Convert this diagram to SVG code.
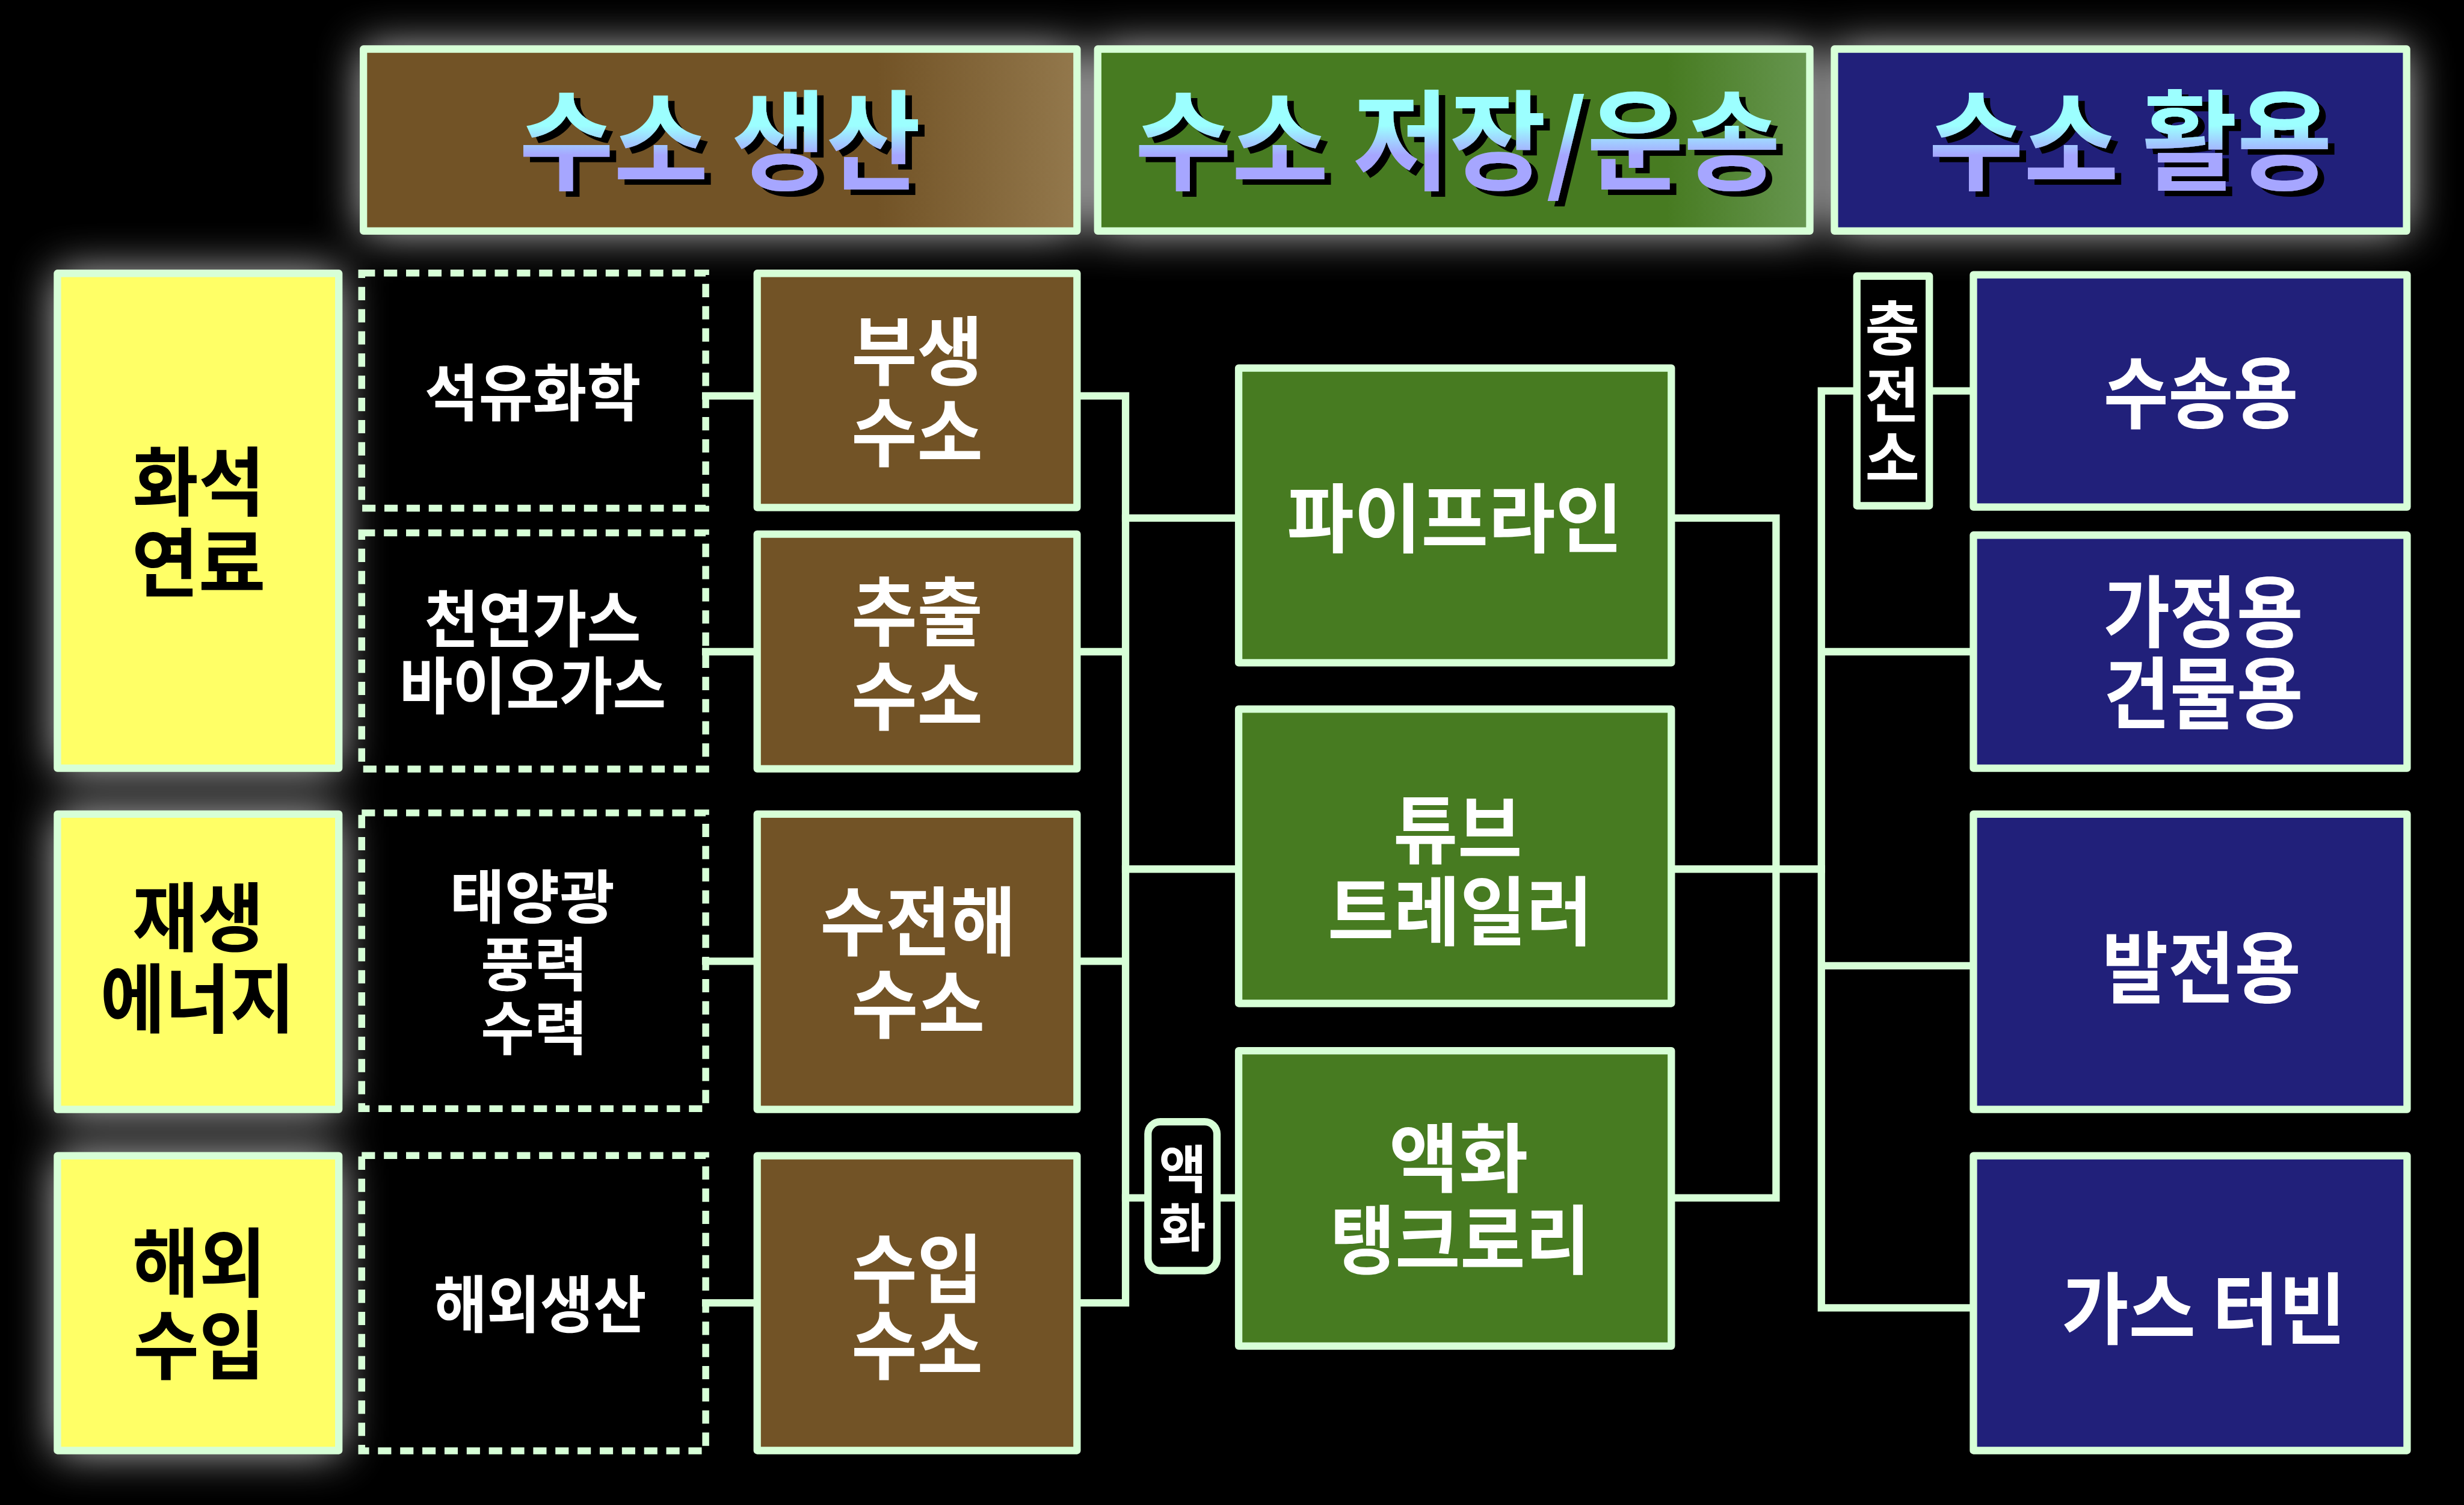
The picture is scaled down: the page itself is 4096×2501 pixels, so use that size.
<svg xmlns="http://www.w3.org/2000/svg" width="4096" height="2501" viewBox="0 0 4096 2501">
<defs>
<style>
.edge{fill:none;stroke:#D7FFD7;stroke-width:15;stroke-linecap:square;stroke-linejoin:miter}
.box{stroke:#D7FFD7;stroke-width:15;stroke-linejoin:round}
.dash{fill:none;stroke:#D7FFD7;stroke-width:14;stroke-dasharray:27 18}
.lbl{fill:#000;stroke:#D7FFD7;stroke-width:15;stroke-linejoin:round}
text{font-family:"Noto Sans CJK KR","Noto Sans",sans-serif;font-weight:700;text-anchor:middle}
.w{fill:#fff}
.k{fill:#000}
.hd{font-size:220px}
.n{font-size:152px}
.d{font-size:126px}
.b{font-size:158px}
.brown{fill:#725326}
.green{fill:#477B21}
.navy{fill:#21207A}
.yel{fill:#FFFF66}
</style>
<filter id="glow" filterUnits="userSpaceOnUse" x="-400" y="-400" width="5800" height="3900"><feGaussianBlur stdDeviation="45"/></filter>
<filter id="shadow" x="-5%" y="-10%" width="115%" height="130%"><feOffset in="SourceAlpha" dx="13" dy="11" result="o"/><feMerge><feMergeNode in="o"/><feMergeNode in="SourceGraphic"/></feMerge></filter>
<linearGradient id="gBrown" x1="0" y1="0" x2="1" y2="0"><stop offset="0.72" stop-color="#725326"/><stop offset="1" stop-color="#93784C"/></linearGradient>
<linearGradient id="gGreen" x1="0" y1="0" x2="1" y2="0"><stop offset="0.8" stop-color="#477B21"/><stop offset="1" stop-color="#679650"/></linearGradient>
<linearGradient id="gText" gradientUnits="userSpaceOnUse" x1="0" y1="255" x2="0" y2="315"><stop offset="0" stop-color="#9CFFFF"/><stop offset="1" stop-color="#A6A6FF"/></linearGradient>
</defs>
<rect x="0" y="0" width="4096" height="2501" fill="#000"/>
<g transform="scale(0.8192)">
<g id="glows" filter="url(#glow)" fill="#fff" opacity="0.8">
<rect x="735" y="97" width="1452" height="374"/>
<rect x="2225" y="97" width="1450" height="374"/>
<rect x="3720" y="97" width="1166" height="374"/>
<rect x="114" y="552" width="576" height="1009"/>
<rect x="114" y="1649" width="576" height="604"/>
<rect x="114" y="2342" width="576" height="603"/>
</g>

<g id="connectors">
<path class="edge" d="M1432 803H1536M1432 1322H1536M1432 1950H1536M1432 2643H1536"/>
<path class="edge" d="M2185 803H2284V2643H2185M2185 1322H2284M2185 1950H2284"/>
<path class="edge" d="M2284 1051H2513M2284 1763H2513M2284 2430H2513"/>
<path class="edge" d="M3392 1051H3604V2430H3392M3392 1763H3696"/>
<path class="edge" d="M4004 793H3696V2653H4004M3696 1322H4004M3696 1959H4004"/>
</g>

<g id="header-production">
<rect class="box" x="737.5" y="99.5" width="1448" height="369" fill="url(#gBrown)"/>
<text class="hd" x="1461" y="368" fill="url(#gText)" filter="url(#shadow)" textLength="815" lengthAdjust="spacingAndGlyphs">수소 생산</text>
</g>
<g id="header-storage">
<rect class="box" x="2227.5" y="99.5" width="1445" height="369" fill="url(#gGreen)"/>
<text class="hd" x="2958" y="368" fill="url(#gText)" filter="url(#shadow)" textLength="1310" lengthAdjust="spacingAndGlyphs">수소 저장/운송</text>
</g>
<g id="header-use">
<rect class="box navy" x="3722.5" y="99.5" width="1161" height="369"/>
<text class="hd" x="4323" y="368" fill="url(#gText)" filter="url(#shadow)" textLength="819" lengthAdjust="spacingAndGlyphs">수소 활용</text>
</g>

<g id="fossil-fuel">
<rect class="box yel" x="116.5" y="554.5" width="571" height="1004"/>
<text class="n k"><tspan x="403" y="1034" textLength="268" lengthAdjust="spacingAndGlyphs">화석</tspan><tspan x="403" y="1199" textLength="272" lengthAdjust="spacingAndGlyphs">연료</tspan></text>
</g>
<g id="renewable">
<rect class="box yel" x="116.5" y="1651.5" width="571" height="599"/>
<text class="n k"><tspan x="402" y="1918" textLength="267" lengthAdjust="spacingAndGlyphs">재생</tspan><tspan x="401" y="2083" textLength="395" lengthAdjust="spacingAndGlyphs">에너지</tspan></text>
</g>
<g id="overseas-import">
<rect class="box yel" x="116.5" y="2344.5" width="571" height="598"/>
<text class="n k"><tspan x="404" y="2618" textLength="272" lengthAdjust="spacingAndGlyphs">해외</tspan><tspan x="404" y="2786" textLength="267" lengthAdjust="spacingAndGlyphs">수입</tspan></text>
</g>

<g id="petrochem">
<rect class="dash" x="734" y="554" width="698" height="477"/>
<text class="d w" x="1081" y="844" textLength="439" lengthAdjust="spacingAndGlyphs">석유화학</text>
</g>
<g id="natural-gas">
<rect class="dash" x="734" y="1081" width="698" height="479"/>
<text class="d w"><tspan x="1081" y="1303" textLength="439" lengthAdjust="spacingAndGlyphs">천연가스</tspan><tspan x="1081" y="1438" textLength="541" lengthAdjust="spacingAndGlyphs">바이오가스</tspan></text>
</g>
<g id="solar-wind-hydro">
<rect class="dash" x="734" y="1649" width="698" height="600"/>
<text class="w" style="font-size:118px"><tspan x="1080" y="1863" textLength="335" lengthAdjust="spacingAndGlyphs">태양광</tspan><tspan x="1084" y="2000" textLength="217" lengthAdjust="spacingAndGlyphs">풍력</tspan><tspan x="1084" y="2129" textLength="217" lengthAdjust="spacingAndGlyphs">수력</tspan></text>
</g>
<g id="overseas-production">
<rect class="dash" x="734" y="2344" width="698" height="599"/>
<text class="d w" x="1096" y="2693" textLength="432" lengthAdjust="spacingAndGlyphs">해외생산</text>
</g>

<g id="byproduct-h2">
<rect class="box brown" x="1536.5" y="554.5" width="649" height="475"/>
<text class="n w"><tspan x="1861" y="769" textLength="267" lengthAdjust="spacingAndGlyphs">부생</tspan><tspan x="1861" y="934" textLength="267" lengthAdjust="spacingAndGlyphs">수소</tspan></text>
</g>
<g id="extracted-h2">
<rect class="box brown" x="1536.5" y="1083.5" width="649" height="476"/>
<text class="n w"><tspan x="1861" y="1298" textLength="267" lengthAdjust="spacingAndGlyphs">추출</tspan><tspan x="1861" y="1468" textLength="267" lengthAdjust="spacingAndGlyphs">수소</tspan></text>
</g>
<g id="electrolysis-h2">
<rect class="box brown" x="1536.5" y="1651.5" width="649" height="599"/>
<text class="n w"><tspan x="1863" y="1926" textLength="397" lengthAdjust="spacingAndGlyphs">수전해</tspan><tspan x="1863" y="2093" textLength="271" lengthAdjust="spacingAndGlyphs">수소</tspan></text>
</g>
<g id="imported-h2">
<rect class="box brown" x="1536.5" y="2344.5" width="649" height="598"/>
<text class="n w"><tspan x="1861" y="2631" textLength="267" lengthAdjust="spacingAndGlyphs">수입</tspan><tspan x="1861" y="2786" textLength="267" lengthAdjust="spacingAndGlyphs">수소</tspan></text>
</g>

<g id="pipeline">
<rect class="box green" x="2513.5" y="746.5" width="878" height="598"/>
<text class="n w" x="2952" y="1109" textLength="681" lengthAdjust="spacingAndGlyphs">파이프라인</text>
</g>
<g id="tube-trailer">
<rect class="box green" x="2513.5" y="1438.5" width="878" height="597"/>
<text class="n w"><tspan x="2958" y="1739" textLength="261" lengthAdjust="spacingAndGlyphs">튜브</tspan><tspan x="2963" y="1906" textLength="538" lengthAdjust="spacingAndGlyphs">트레일러</tspan></text>
</g>
<g id="tank-lorry">
<rect class="box green" x="2513.5" y="2131.5" width="878" height="599"/>
<text class="n w"><tspan x="2960" y="2406" textLength="283" lengthAdjust="spacingAndGlyphs">액화</tspan><tspan x="2963" y="2572" textLength="528" lengthAdjust="spacingAndGlyphs">탱크로리</tspan></text>
</g>

<g id="liquefaction-label">
<rect class="lbl" x="2329.5" y="2275.5" width="140" height="302" rx="25"/>
<text class="w" style="font-size:105px"><tspan x="2400" y="2411">액</tspan><tspan x="2399" y="2529">화</tspan></text>
</g>
<g id="charging-label">
<rect class="lbl" x="3768" y="560" width="147" height="466"/>
<text class="w" style="font-size:120px"><tspan x="3840" y="711">충</tspan><tspan x="3840" y="846">전</tspan><tspan x="3840" y="974">소</tspan></text>
</g>

<g id="transport-use">
<rect class="box navy" x="4004.5" y="557.5" width="880" height="471"/>
<text class="b w" x="4466" y="856" textLength="395" lengthAdjust="spacingAndGlyphs">수송용</text>
</g>
<g id="home-building-use">
<rect class="box navy" x="4004.5" y="1085.5" width="880" height="473"/>
<text class="b w"><tspan x="4471" y="1300" textLength="405" lengthAdjust="spacingAndGlyphs">가정용</tspan><tspan x="4471" y="1465" textLength="405" lengthAdjust="spacingAndGlyphs">건물용</tspan></text>
</g>
<g id="power-use">
<rect class="box navy" x="4004.5" y="1651.5" width="880" height="599"/>
<text class="b w" x="4467" y="2021" textLength="404" lengthAdjust="spacingAndGlyphs">발전용</text>
</g>
<g id="gas-turbine">
<rect class="box navy" x="4004.5" y="2344.5" width="880" height="598"/>
<text class="b w" x="4472" y="2714" textLength="576" lengthAdjust="spacingAndGlyphs">가스 터빈</text>
</g>
</g>
</svg>
